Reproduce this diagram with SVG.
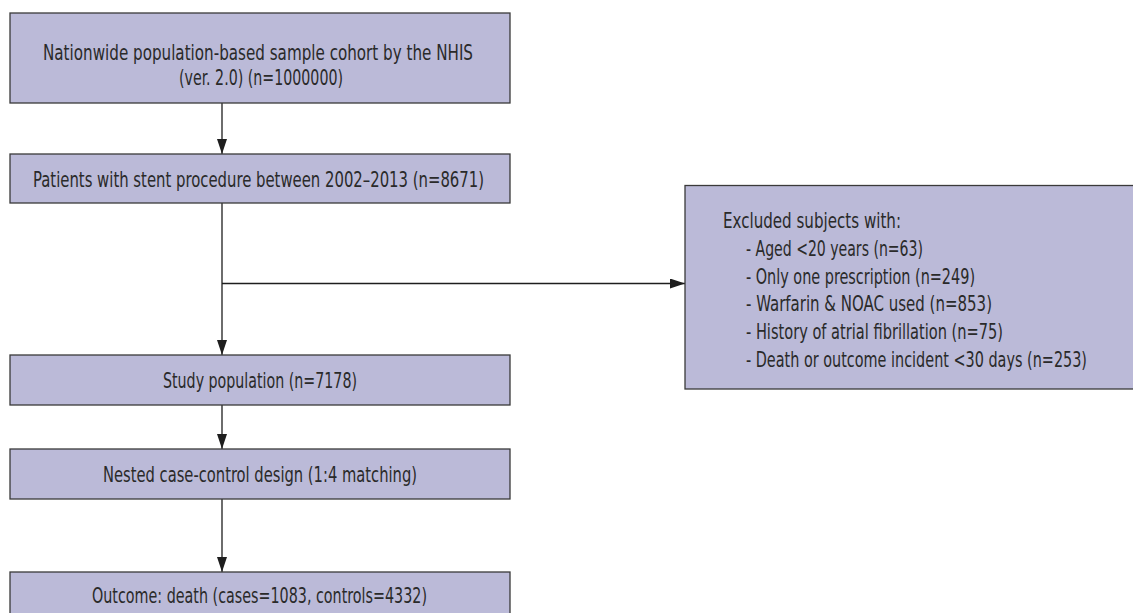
<svg xmlns="http://www.w3.org/2000/svg" width="1133" height="613" viewBox="0 0 1133 613">
  <style>
    .box { fill: #bbbad8; stroke: #3a3a3a; stroke-width: 1.3; }
    .t { font-family: "Liberation Sans Narrow", "DejaVu Sans Condensed", "Liberation Sans", sans-serif; font-size: 22px; fill: #2a2a2a; }
    .c { text-anchor: middle; }
    .conn { fill: none; stroke: #1e1e1e; stroke-width: 1.3; }
  </style>
  <defs>
    <marker id="ah" viewBox="0 0 15 10" refX="15" refY="5" markerWidth="15" markerHeight="10" markerUnits="userSpaceOnUse" orient="auto">
      <path d="M0,0 L15,5 L0,10 Z" fill="#1e1e1e"/>
    </marker>
  </defs>
  <rect width="1133" height="613" fill="#ffffff"/>

  <g id="connectors">
    <line class="conn" x1="222" y1="103" x2="222" y2="154" marker-end="url(#ah)"/>
    <line class="conn" x1="222" y1="203" x2="222" y2="355" marker-end="url(#ah)"/>
    <line class="conn" x1="222" y1="283.5" x2="685" y2="283.5" marker-end="url(#ah)"/>
    <line class="conn" x1="222" y1="405" x2="222" y2="449" marker-end="url(#ah)"/>
    <line class="conn" x1="222" y1="499" x2="222" y2="572" marker-end="url(#ah)"/>
  </g>

  <g id="node-cohort">
    <rect class="box" x="10" y="13" width="500" height="90"/>
    <text class="t c" x="258" y="60" textLength="430" lengthAdjust="spacingAndGlyphs">Nationwide population-based sample cohort by the NHIS</text>
    <text class="t c" x="261" y="85" textLength="164" lengthAdjust="spacingAndGlyphs">(ver. 2.0) (n=1000000)</text>
  </g>

  <g id="node-stent">
    <rect class="box" x="10" y="154" width="500" height="49"/>
    <text class="t c" x="258.5" y="187" textLength="451" lengthAdjust="spacingAndGlyphs">Patients with stent procedure between 2002–2013 (n=8671)</text>
  </g>

  <g id="node-excluded">
    <rect class="box" x="685" y="185.5" width="460" height="203.5"/>
    <text class="t" x="723" y="228" textLength="178" lengthAdjust="spacingAndGlyphs">Excluded subjects with:</text>
    <text class="t" x="746" y="256" textLength="177" lengthAdjust="spacingAndGlyphs">- Aged &lt;20 years (n=63)</text>
    <text class="t" x="746" y="284" textLength="229" lengthAdjust="spacingAndGlyphs">- Only one prescription (n=249)</text>
    <text class="t" x="746" y="311" textLength="246" lengthAdjust="spacingAndGlyphs">- Warfarin &amp; NOAC used (n=853)</text>
    <text class="t" x="746" y="339" textLength="257" lengthAdjust="spacingAndGlyphs">- History of atrial fibrillation (n=75)</text>
    <text class="t" x="746" y="367" textLength="341" lengthAdjust="spacingAndGlyphs">- Death or outcome incident &lt;30 days (n=253)</text>
  </g>

  <g id="node-study">
    <rect class="box" x="10" y="355" width="500" height="50"/>
    <text class="t c" x="260" y="388" textLength="194" lengthAdjust="spacingAndGlyphs">Study population (n=7178)</text>
  </g>

  <g id="node-nested">
    <rect class="box" x="10" y="449" width="500" height="50"/>
    <text class="t c" x="260" y="482" textLength="314" lengthAdjust="spacingAndGlyphs">Nested case-control design (1:4 matching)</text>
  </g>

  <g id="node-outcome">
    <rect class="box" x="10" y="572" width="500" height="60"/>
    <text class="t c" x="259.5" y="603" textLength="335" lengthAdjust="spacingAndGlyphs">Outcome: death (cases=1083, controls=4332)</text>
  </g>
</svg>
